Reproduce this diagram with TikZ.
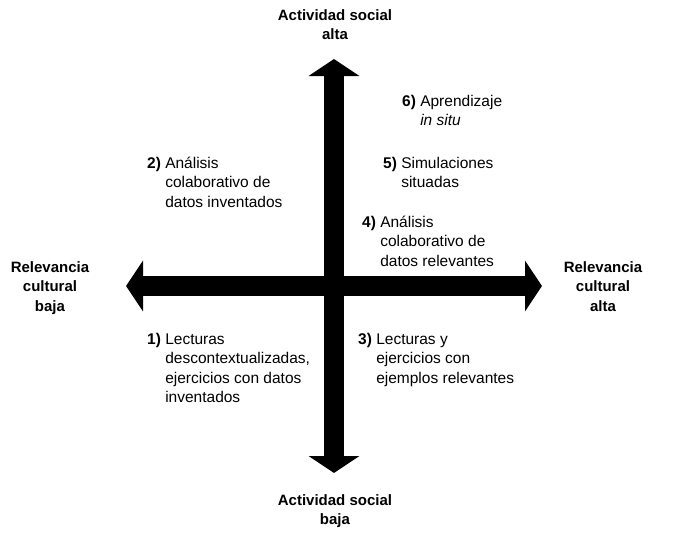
\documentclass[tikz,border=0pt]{standalone}
\usepackage{fontspec}
\setmainfont{Liberation Sans}
\usetikzlibrary{arrows.meta}

\newcommand{\numitem}[2]{\textbf{#1}\ \begin{tabular}[t]{@{}l@{}}#2\end{tabular}}
\newcommand{\poletext}[1]{\bfseries\begin{tabular}[t]{@{}c@{}}#1\end{tabular}}

\begin{document}
\begin{tikzpicture}[x=1pt,y=-1pt,
  axis/.style={line width=20pt,
    {Triangle[width=50pt,length=17pt]}-{Triangle[width=50pt,length=17pt]}},
  pole/.style={anchor=base, inner sep=0pt, font=\fontsize{15}{19.5}\selectfont},
  quad/.style={anchor=base west, inner sep=0pt, font=\fontsize{15.5}{19.5}\selectfont}]
\useasboundingbox (0,0) rectangle (673,539);
% ejes
\coordinate (top) at (334,59);
\coordinate (bottom) at (334,473);
\coordinate (left) at (126,286);
\coordinate (right) at (542,286);
\draw[axis] (bottom) -- (top);
\draw[axis] (left) -- (right);
% polos
\node[pole] (socalta) at (335,20) {\poletext{Actividad social\\alta}};
\node[pole] (socbaja) at (335,505) {\poletext{Actividad social\\baja}};
\node[pole] (culbaja) at (50,272) {\poletext{Relevancia\\cultural\\baja}};
\node[pole] (culalta) at (603,272) {\poletext{Relevancia\\cultural\\alta}};
% cuadrantes
\node[quad] (six) at (402,106) {\numitem{6)}{Aprendizaje\\\textit{in situ}}};
\node[quad] (two) at (147,168) {\numitem{2)}{Análisis\\colaborativo de\\datos inventados}};
\node[quad] (five) at (383,168) {\numitem{5)}{Simulaciones\\situadas}};
\node[quad] (four) at (362,227) {\numitem{4)}{Análisis\\colaborativo de\\datos relevantes}};
\node[quad] (one) at (147,344) {\numitem{1)}{Lecturas\\descontextualizadas,\\ejercicios con datos\\inventados}};
\node[quad] (three) at (358,344) {\numitem{3)}{Lecturas y\\ejercicios con\\ejemplos relevantes}};
\end{tikzpicture}
\end{document}
